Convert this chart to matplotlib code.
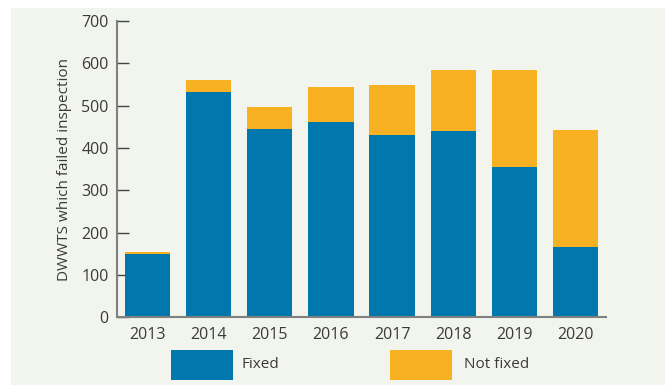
import matplotlib
matplotlib.use("Agg")
import matplotlib.pyplot as plt
from matplotlib.patches import Rectangle

years = ["2013", "2014", "2015", "2016", "2017", "2018", "2019", "2020"]
fixed = [150, 532, 445, 462, 431, 441, 355, 165]
not_fixed = [5, 29, 52, 82, 118, 144, 230, 278]
series_names = ["Fixed", "Not fixed"]
yticks = [0, 100, 200, 300, 400, 500, 600, 700]

BLUE = "#0077AD"
ORANGE = "#F8B123"
PANEL = "#F2F4EE"
TEXT = "#3a3a3a"

plt.rcParams["font.family"] = ["Open Sans", "DejaVu Sans"]

fig = plt.figure(figsize=(6.65, 3.85), dpi=100)
fig.patch.set_facecolor("white")
fig.patches.append(Rectangle((11 / 665, 0), 1 - 11 / 665, 1 - 8 / 385,
                             transform=fig.transFigure, facecolor=PANEL,
                             edgecolor="none", zorder=-10))

ax = fig.add_axes([117 / 665, 1 - 317.3 / 385, (606 - 117) / 665, (317.3 - 21) / 385])
ax.set_facecolor("none")

x = list(range(len(years)))
w = 0.74
ax.bar(x, fixed, width=w, color=BLUE, label=series_names[0], zorder=2)
ax.bar(x, not_fixed, width=w, bottom=fixed, color=ORANGE, label=series_names[1], zorder=2)

ax.set_xlim(-0.5, len(years) - 0.5)
ax.set_ylim(0, 700)
ax.set_yticks(yticks)
ax.set_yticklabels([str(v) for v in yticks])
ax.set_xticks(x)
ax.set_xticklabels(years)

for s in ["top", "right"]:
    ax.spines[s].set_visible(False)
for s in ["left", "bottom"]:
    ax.spines[s].set_color("#808080")
    ax.spines[s].set_linewidth(1.5)
    ax.spines[s].set_zorder(3)

ax.tick_params(axis="y", direction="in", length=8.5, width=1, color="#444444",
               labelsize=11.5, labelcolor=TEXT, pad=6)
ax.tick_params(axis="x", length=0, labelsize=11.5, labelcolor=TEXT, pad=7)

ax.set_ylabel("DWWTS which failed inspection", fontsize=11, color=TEXT, labelpad=7)

# legend drawn manually below the plot
for (x0, x1, tx, color, name) in [(171, 233, 241, BLUE, series_names[0]),
                                   (390, 452, 464, ORANGE, series_names[1])]:
    fig.patches.append(Rectangle((x0 / 665, 1 - 380 / 385), (x1 - x0) / 665, 30 / 385,
                                 transform=fig.transFigure, facecolor=color,
                                 edgecolor="none"))
    fig.text(tx / 665, 1 - 365 / 385, name, fontsize=11, color=TEXT,
             ha="left", va="center")

fig.savefig("out.png", dpi=100, facecolor=fig.get_facecolor())
